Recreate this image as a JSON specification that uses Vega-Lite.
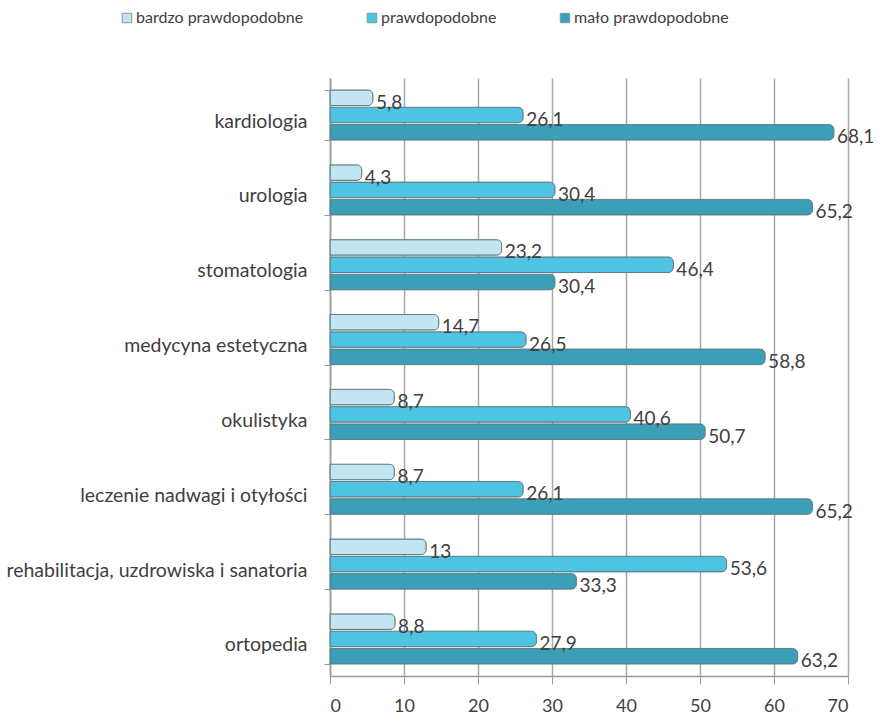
{
  "$schema": "https://vega.github.io/schema/vega-lite/v6.json",
  "width": 518,
  "height": 598,
  "autosize": "none",
  "padding": {"left": 330, "top": 78, "right": 33, "bottom": 46},
  "background": "white",
  "config": {
    "view": {"stroke": null},
    "font": "Lato",
    "locale": {"number": {"decimal": ",", "thousands": " ", "grouping": [3], "currency": ["", " zł"]}}
  },
  "data": {
    "values": [
      {"dziedzina": "kardiologia", "kategoria": "bardzo prawdopodobne", "wartosc": 5.8},
      {"dziedzina": "kardiologia", "kategoria": "prawdopodobne", "wartosc": 26.1},
      {"dziedzina": "kardiologia", "kategoria": "mało prawdopodobne", "wartosc": 68.1},
      {"dziedzina": "urologia", "kategoria": "bardzo prawdopodobne", "wartosc": 4.3},
      {"dziedzina": "urologia", "kategoria": "prawdopodobne", "wartosc": 30.4},
      {"dziedzina": "urologia", "kategoria": "mało prawdopodobne", "wartosc": 65.2},
      {"dziedzina": "stomatologia", "kategoria": "bardzo prawdopodobne", "wartosc": 23.2},
      {"dziedzina": "stomatologia", "kategoria": "prawdopodobne", "wartosc": 46.4},
      {"dziedzina": "stomatologia", "kategoria": "mało prawdopodobne", "wartosc": 30.4},
      {"dziedzina": "medycyna estetyczna", "kategoria": "bardzo prawdopodobne", "wartosc": 14.7},
      {"dziedzina": "medycyna estetyczna", "kategoria": "prawdopodobne", "wartosc": 26.5},
      {"dziedzina": "medycyna estetyczna", "kategoria": "mało prawdopodobne", "wartosc": 58.8},
      {"dziedzina": "okulistyka", "kategoria": "bardzo prawdopodobne", "wartosc": 8.7},
      {"dziedzina": "okulistyka", "kategoria": "prawdopodobne", "wartosc": 40.6},
      {"dziedzina": "okulistyka", "kategoria": "mało prawdopodobne", "wartosc": 50.7},
      {"dziedzina": "leczenie nadwagi i otyłości", "kategoria": "bardzo prawdopodobne", "wartosc": 8.7},
      {"dziedzina": "leczenie nadwagi i otyłości", "kategoria": "prawdopodobne", "wartosc": 26.1},
      {"dziedzina": "leczenie nadwagi i otyłości", "kategoria": "mało prawdopodobne", "wartosc": 65.2},
      {"dziedzina": "rehabilitacja, uzdrowiska i sanatoria", "kategoria": "bardzo prawdopodobne", "wartosc": 13},
      {"dziedzina": "rehabilitacja, uzdrowiska i sanatoria", "kategoria": "prawdopodobne", "wartosc": 53.6},
      {"dziedzina": "rehabilitacja, uzdrowiska i sanatoria", "kategoria": "mało prawdopodobne", "wartosc": 33.3},
      {"dziedzina": "ortopedia", "kategoria": "bardzo prawdopodobne", "wartosc": 8.8},
      {"dziedzina": "ortopedia", "kategoria": "prawdopodobne", "wartosc": 27.9},
      {"dziedzina": "ortopedia", "kategoria": "mało prawdopodobne", "wartosc": 63.2}
    ]
  },
  "encoding": {
    "y": {
      "field": "dziedzina",
      "type": "nominal",
      "sort": null,
      "title": null,
      "scale": {"paddingInner": 0.33, "paddingOuter": 0.16},
      "axis": {
        "tickBand": "extent",
        "tickSize": 6,
        "tickColor": "#9a9a9a",
        "domainColor": "#9a9a9a",
        "domainWidth": 1.5,
        "labelFontSize": 19.5,
        "labelColor": "#404040",
        "labelPadding": 17,
        "labelLimit": 340,
        "labelOffset": 6
      }
    },
    "yOffset": {
      "field": "kategoria",
      "type": "nominal",
      "sort": ["bardzo prawdopodobne", "prawdopodobne", "mało prawdopodobne"],
      "scale": {"paddingInner": 0.1}
    },
    "x": {
      "field": "wartosc",
      "type": "quantitative",
      "title": null,
      "scale": {"domain": [0, 70], "nice": false},
      "axis": {
        "values": [0, 10, 20, 30, 40, 50, 60, 70],
        "tickSize": 8,
        "tickColor": "#9a9a9a",
        "domainColor": "#9a9a9a",
        "domainWidth": 1.5,
        "gridColor": "#a8a8a8",
        "gridWidth": 1.5,
        "labelFontSize": 18,
        "labelColor": "#404040",
        "labelPadding": 13,
        "format": "d"
      }
    }
  },
  "layer": [
    {
      "mark": {"type": "bar", "cornerRadiusEnd": 5, "stroke": "#5f7f88", "strokeWidth": 1},
      "encoding": {
        "color": {
          "field": "kategoria",
          "type": "nominal",
          "sort": ["bardzo prawdopodobne", "prawdopodobne", "mało prawdopodobne"],
          "scale": {
            "domain": ["bardzo prawdopodobne", "prawdopodobne", "mało prawdopodobne"],
            "range": ["#c3e5f1", "#4ec4e2", "#3c9fb8"]
          },
          "legend": {
            "title": null,
            "orient": "none",
            "direction": "horizontal",
            "legendX": -211,
            "legendY": -68,
            "symbolType": "square",
            "symbolSize": 90,
            "symbolStrokeColor": "#7a9aa3",
            "symbolStrokeWidth": 1,
            "labelFontSize": 16,
            "labelLimit": 300,
            "labelColor": "#404040",
            "columnPadding": 60,
            "labelOffset": 1
          }
        }
      }
    },
    {
      "mark": {"type": "text", "align": "left", "baseline": "middle", "dx": 3, "dy": 5, "fontSize": 19, "color": "#404040"},
      "encoding": {
        "text": {"field": "wartosc", "type": "quantitative", "format": ".1~f"}
      }
    }
  ]
}
